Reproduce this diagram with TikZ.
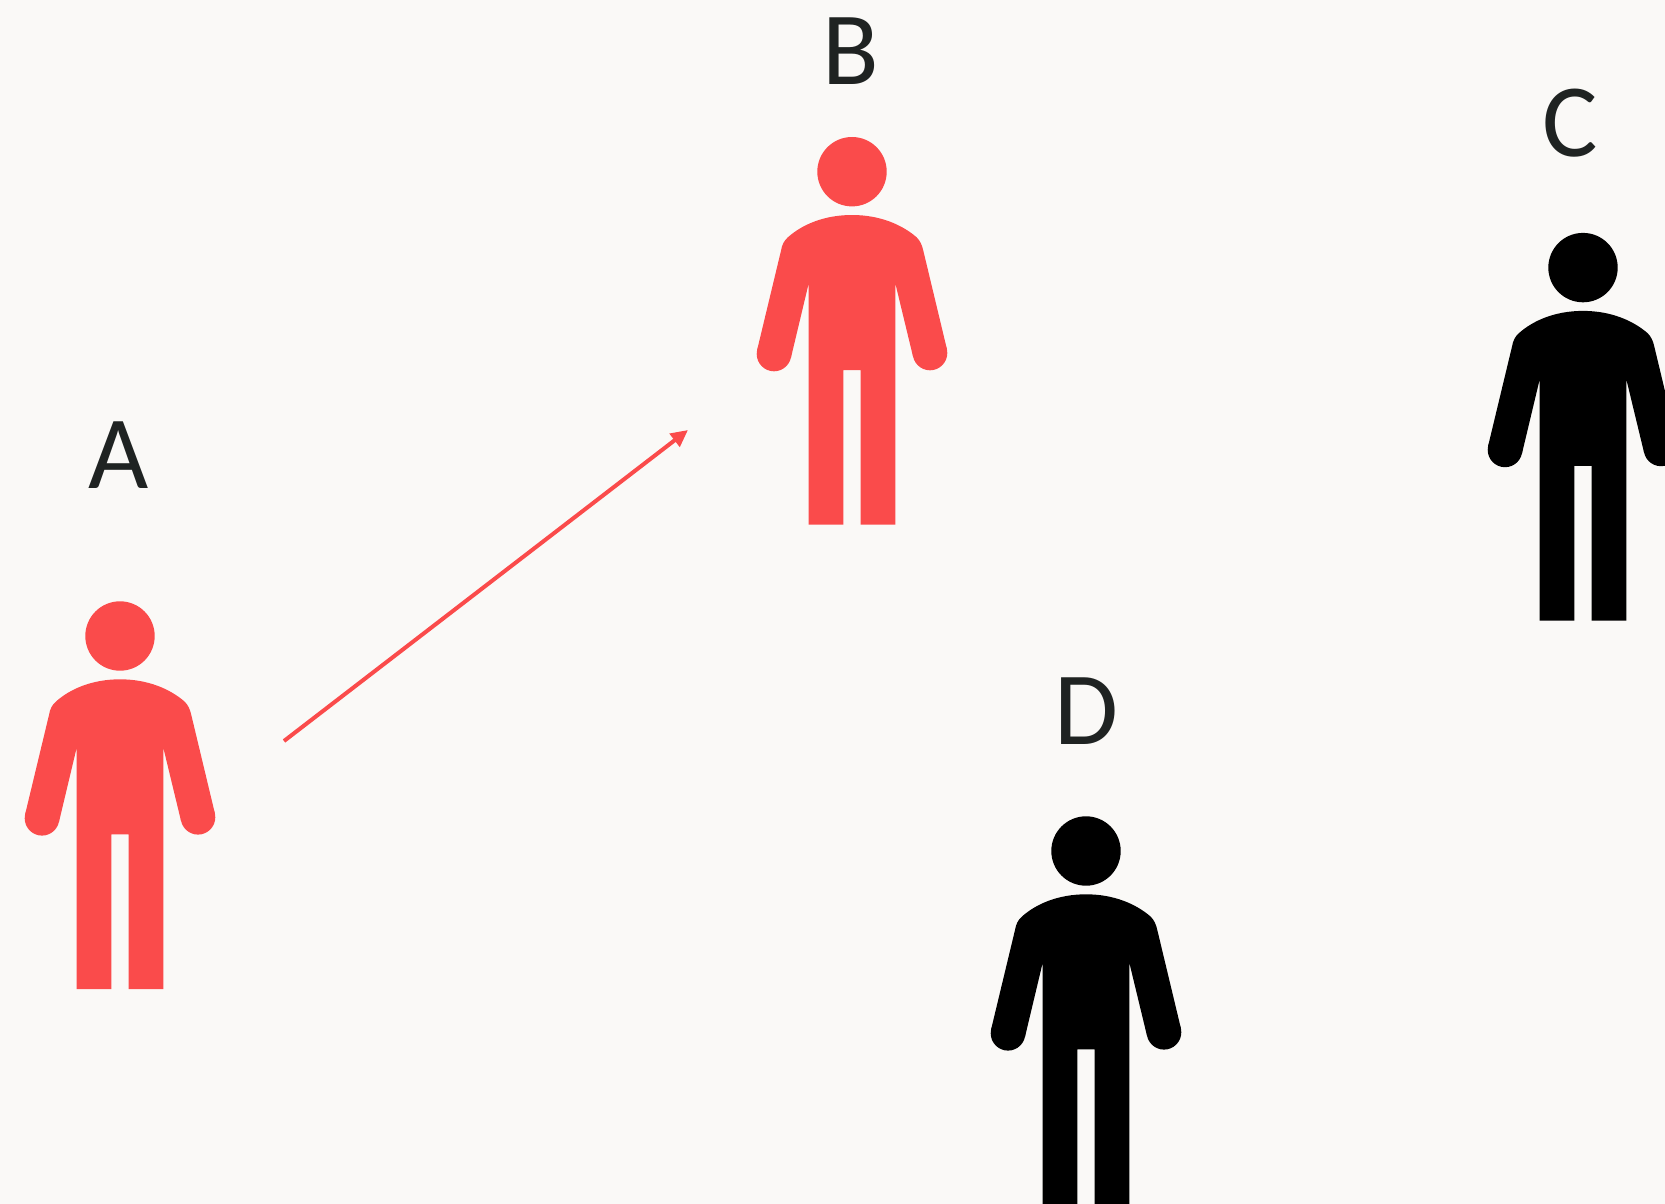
\documentclass[tikz,border=0pt]{standalone}
\usepackage{fontspec}
\setmainfont{Carlito}
\usepackage{xcolor}
\usetikzlibrary{arrows.meta}
\definecolor{figred}{HTML}{FA4B4B}
\definecolor{paper}{HTML}{FAF9F7}
\definecolor{letterink}{HTML}{1F2322}

\begin{document}
\begin{tikzpicture}[
    x=0.5pt, y=-0.5pt,
    >=Latex,
    letter/.style={anchor=base, inner sep=0pt, text=letterink, font=\fontsize{52}{52}\selectfont},
    head/.style={circle, minimum size=34.7pt, inner sep=0pt},
    line/.style={-{Triangle[length=8.5pt, width=8pt]}, line width=2pt, figred},
    person/.pic={
        \node[head, pic actions] (-head) at (0,0) {};
        \fill[pic actions] (-43.3,353) -- (-43.3,111.6) -- (-61.1,186.2) -- (-94.9,178.4) -- (-71,79)
            .. controls (-70,73) and (-68,69) .. (-64,65.5)
            .. controls (-50,53) and (-28,43.3) .. (0,43.3)
            .. controls (28,43.3) and (50,53) .. (64.5,65.5)
            .. controls (68,69) and (70,73) .. (71.3,79)
            -- (94.9,177.4) -- (61.1,185.2) -- (43.3,111.6) -- (43.3,353) -- (8.7,353)
            -- (8.7,198.3) -- (-8.7,198.3) -- (-8.7,353) -- cycle;
        \fill[pic actions] (-78,182.3) circle (17.3);
        \fill[pic actions] (78,181.3) circle (17.3);
    }
]
% Background and page frame.
\fill[paper] (0,0) rectangle (1665,1204);
\clip (0,0) rectangle (1665,1204);

% The four people.
\pic[fill=figred] (personA) at (120,636) {person};
\pic[fill=figred] (personB) at (852,171.7) {person};
\pic[fill=black] (personC) at (1583,267.6) {person};
\pic[fill=black] (personD) at (1086,851) {person};

% Letters over the heads.
\node[letter] (labelA) at (119,488) {A};
\node[letter] (labelB) at (851,84.5) {B};
\node[letter] (labelC) at (1570,156) {C};
\node[letter] (labelD) at (1086,744) {D};

% Arrow from A towards B.
\coordinate (tail) at (284,741);
\coordinate (tip) at (688,430);
\draw[line] (tail) -- (tip);

\end{tikzpicture}
\end{document}
